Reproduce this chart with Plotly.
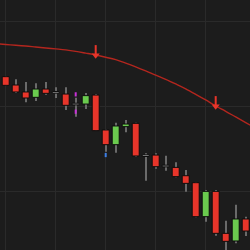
import plotly.graph_objects as go

# ---- data ----
idx = list(range(25))
opens = [113.53, 112.55, 111.73, 111.10, 112.08, 111.69, 111.49, 110.31, 110.31, 111.37,
         107.26, 105.53, 107.65, 108.04, 104.24, 104.31, 103.02, 102.86, 101.88, 101.06,
         97.06, 100.04, 95.10, 94.20, 96.79]
highs = [113.61, 113.22, 112.90, 112.75, 112.90, 112.28, 112.28, 111.06, 111.61, 111.49,
         107.33, 108.12, 108.43, 108.12, 104.51, 104.51, 104.24, 103.45, 102.55, 101.14,
         100.20, 100.20, 96.59, 98.47, 97.06]
lows = [112.47, 111.61, 110.51, 110.67, 111.41, 111.02, 109.61, 108.82, 109.73, 107.14,
        104.71, 104.59, 106.98, 104.12, 101.30, 102.71, 102.47, 101.69, 100.00, 96.98,
        96.47, 94.82, 92.50, 93.92, 94.79]
closes = [112.51, 111.73, 111.02, 112.08, 111.57, 111.69, 110.16, 110.31, 111.30, 107.18,
          105.53, 107.73, 107.96, 104.20, 104.24, 102.94, 103.02, 101.77, 100.98, 97.06,
          100.04, 95.10, 94.16, 96.79, 95.37]

ma_x = list(range(-1, 26))
ma_vals = [117.41, 117.31, 117.22, 117.13, 117.02, 116.91, 116.80, 116.68, 116.51, 116.30,
           116.08, 115.82, 115.53, 115.13, 114.69, 114.21, 113.70, 113.21, 112.67, 112.10,
           111.46, 110.79, 110.08, 109.46, 108.79, 108.13, 107.47]

sell_idx = [9, 21]
magenta_idx = [7, 7]
magenta_vals = [111.45, 109.41]
blue_idx = [10]
blue_vals = [104.31]

# ---- styles ----
BG = "#1c1c1c"
GRID = "#2a2a2a"
RED = "#e8352a"
GREEN = "#6acb4e"
DOJI = "#a0a0a0"
WICK = "#6a6a6a"
EDGE = "#0d0d0d"

fig = go.Figure()

# wicks
fig.add_trace(go.Bar(
    x=idx, y=[h - l for h, l in zip(highs, lows)], base=lows,
    width=0.12, marker=dict(color=WICK, line=dict(width=0)),
    hoverinfo="skip", showlegend=False))

# bodies
colors, heights, bases = [], [], []
for o, c in zip(opens, closes):
    if c > o:
        colors.append(GREEN)
    elif c < o:
        colors.append(RED)
    else:
        colors.append(DOJI)
    h = abs(c - o)
    if h < 0.2:
        bases.append(min(o, c) - (0.2 - h) / 2)
        heights.append(0.2)
    else:
        bases.append(min(o, c))
        heights.append(h)

fig.add_trace(go.Bar(
    x=idx, y=heights, base=bases, width=0.7,
    marker=dict(color=colors, line=dict(color=EDGE, width=1)),
    showlegend=False))

# moving average
fig.add_trace(go.Scatter(
    x=ma_x, y=ma_vals, mode="lines",
    line=dict(color="#b3261e", width=1.4, shape="spline"),
    showlegend=False))

# sell arrows
sell_ma = [ma_vals[ma_x.index(i)] for i in sell_idx]
px = 1 / 8.5  # price per pixel
fig.add_trace(go.Scatter(
    x=sell_idx, y=[v + 5 * px for v in sell_ma], mode="markers",
    marker=dict(symbol="line-ns", size=7, line=dict(color=RED, width=2)),
    showlegend=False))
fig.add_trace(go.Scatter(
    x=sell_idx, y=[v - 0.3 * px for v in sell_ma], mode="markers",
    marker=dict(symbol="triangle-down", size=7, color=RED, line=dict(width=0)),
    showlegend=False))

# small signal ticks
fig.add_trace(go.Scatter(
    x=magenta_idx, y=magenta_vals, mode="markers",
    marker=dict(symbol="line-ns", size=3, line=dict(color="#c931d8", width=2)),
    showlegend=False))
fig.add_trace(go.Scatter(
    x=blue_idx, y=blue_vals, mode="markers",
    marker=dict(symbol="line-ns", size=3, line=dict(color="#3d7fe6", width=2)),
    showlegend=False))

fig.update_layout(
    width=250, height=250,
    margin=dict(l=0, r=0, t=0, b=0),
    paper_bgcolor=BG, plot_bgcolor=BG,
    barmode="overlay",
    showlegend=False,
    xaxis=dict(range=[-0.57, 24.43], showticklabels=False, zeroline=False,
               showgrid=True, gridcolor=GRID, gridwidth=1, tick0=0, dtick=5,
               fixedrange=True),
    yaxis=dict(range=[93.14, 122.55], showticklabels=False, zeroline=False,
               showgrid=True, gridcolor=GRID, gridwidth=1, tick0=100, dtick=10,
               fixedrange=True),
)

fig.write_html("out.html", config={"displayModeBar": False})
